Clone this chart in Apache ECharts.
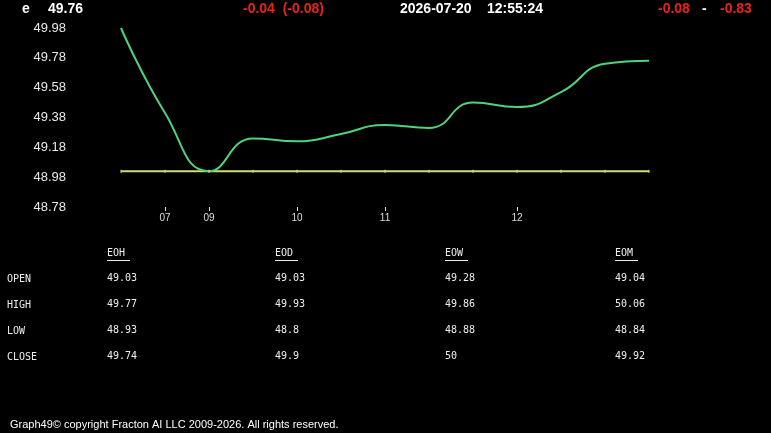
<!DOCTYPE html>
<html>
<head>
<meta charset="utf-8">
<script src="https://cdn.jsdelivr.net/npm/echarts@6/dist/echarts.min.js"></script>
<style>
  html, body { margin: 0; padding: 0; background: #000; }
  #chart { width: 771px; height: 433px; }
</style>
</head>
<body>
<div id="chart"></div>
<script>
// x categories (only some carry a label)
const xLabels = ['', '07', '09', '', '10', '', '11', '', '', '12', '', '', '']
const priceValues = [49.98, 49.41, 49.02, 49.24, 49.22, 49.27, 49.33, 49.31, 49.48, 49.45, 49.55, 49.74, 49.76]
const baseValues = [49.02, 49.02, 49.02, 49.02, 49.02, 49.02, 49.02, 49.02, 49.02, 49.02, 49.02, 49.02, 49.02]
const yMin = 48.78
const yMax = 49.98
const yStep = 0.2

// summary table
const tableCols = ['EOH', 'EOD', 'EOW', 'EOM']
const rowLabels = ['OPEN', 'HIGH', 'LOW', 'CLOSE']
const eohValues = ['49.03', '49.77', '48.93', '49.74']
const eodValues = ['49.03', '49.93', '48.8', '49.9']
const eowValues = ['49.28', '49.86', '48.88', '50']
const eomValues = ['49.04', '50.06', '48.84', '49.92']

const myChart = echarts.init(document.getElementById('chart'))

// axis is drawn relative to yMin so the ticks start exactly at 48.78
const shift = v => +(v - yMin).toFixed(4)

const headFont = 'bold 14px "Liberation Sans", Arial, sans-serif'
const monoFont = '10px "DejaVu Sans Mono", monospace'
const red = '#e8231c'

let graphics = [
  {type: 'text', left: 22, top: 2, style: {text: 'e', fill: '#fff', font: headFont}},
  {type: 'text', left: 48, top: 2, style: {text: '49.76', fill: '#fff', font: headFont}},
  {type: 'text', left: 243, top: 2, style: {text: '-0.04  (-0.08)', fill: red, font: headFont}},
  {type: 'text', left: 400, top: 2, style: {text: '2026-07-20', fill: '#fff', font: headFont}},
  {type: 'text', left: 487, top: 2, style: {text: '12:55:24', fill: '#fff', font: headFont}},
  {type: 'text', left: 658, top: 2, style: {text: '-0.08', fill: red, font: headFont}},
  {type: 'text', left: 702, top: 2, style: {text: '-', fill: '#fff', font: headFont}},
  {type: 'text', left: 720, top: 2, style: {text: '-0.83', fill: red, font: headFont}},
  {type: 'text', left: 10, top: 419, style: {text: 'Graph49\u00a9 copyright Fracton AI LLC 2009-2026. All rights reserved.', fill: '#fff', font: '11px "Liberation Sans", Arial, sans-serif'}}
]

const colX = [107, 275, 445, 615]
const rowY = [273, 299, 325, 351]
const colValues = [eohValues, eodValues, eowValues, eomValues]
tableCols.forEach((name, i) => {
  graphics.push({type: 'text', left: colX[i], top: 248, style: {text: name, fill: '#eee', font: monoFont}})
  graphics.push({type: 'line', shape: {x1: colX[i], y1: 260.5, x2: colX[i] + 23, y2: 260.5}, style: {stroke: '#eee', lineWidth: 1}})
  colValues[i].forEach((v, j) => {
    graphics.push({type: 'text', left: colX[i], top: rowY[j], style: {text: v, fill: '#eee', font: monoFont}})
  })
})
rowLabels.forEach((name, j) => {
  graphics.push({type: 'text', left: 7, top: rowY[j] + 1, style: {text: name, fill: '#eee', font: monoFont}})
})

const option = {
  backgroundColor: '#000',
  animation: false,
  grid: {left: 121, right: 122, top: 28, bottom: 226},
  xAxis: {
    type: 'category',
    boundaryGap: false,
    data: xLabels,
    axisLine: {show: false},
    axisTick: {
      show: true,
      length: 4,
      interval: (idx) => xLabels[idx] !== '',
      lineStyle: {color: '#ddd'}
    },
    axisLabel: {
      interval: 0,
      color: '#ddd',
      fontSize: 10,
      margin: 6,
      fontFamily: 'Arial, sans-serif'
    }
  },
  yAxis: {
    type: 'value',
    min: 0,
    max: shift(yMax),
    interval: yStep,
    splitLine: {show: false},
    axisLine: {show: false},
    axisTick: {show: false},
    axisLabel: {
      color: '#e8e8e8',
      fontSize: 13,
      margin: 55,
      fontFamily: '"Liberation Sans", Arial, sans-serif',
      formatter: v => (yMin + v).toFixed(2)
    }
  },
  series: [
    {
      name: 'base',
      type: 'line',
      data: baseValues.map(shift),
      symbol: 'rect',
      symbolSize: [1, 3],
      showSymbol: true,
      itemStyle: {color: '#dbe59a'},
      lineStyle: {color: '#cfdc78', width: 2}
    },
    {
      name: 'price',
      type: 'line',
      smooth: 0.5,
      data: priceValues.map(shift),
      showSymbol: false,
      lineStyle: {color: '#4fd27c', width: 2}
    }
  ],
  graphic: graphics
}
myChart.setOption(option)
</script>
</body>
</html>
